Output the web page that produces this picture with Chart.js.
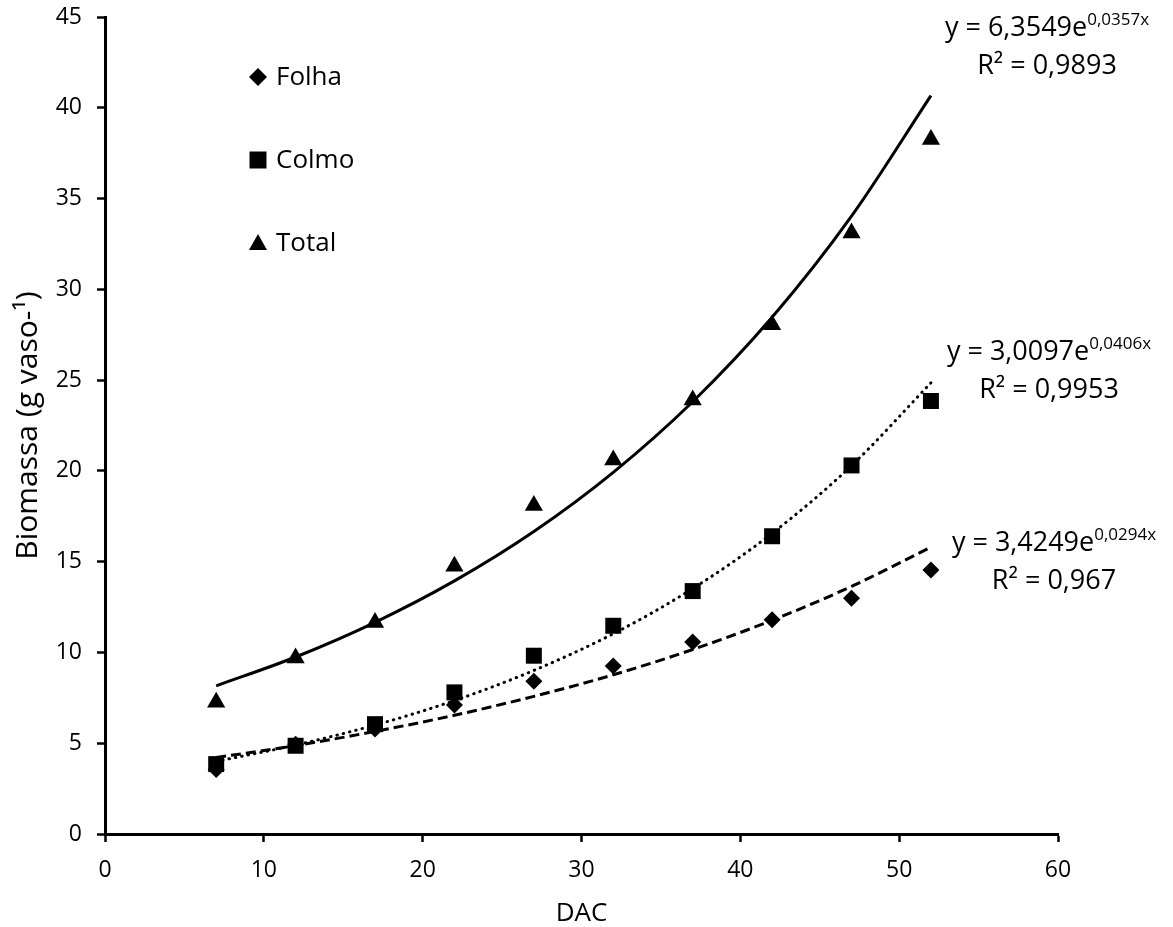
<!DOCTYPE html>
<html>
<head>
<meta charset="utf-8">
<script src="https://cdn.jsdelivr.net/npm/chart.js@4.4.1/dist/chart.umd.min.js"></script>
<style>
html, body { margin: 0; padding: 0; background: #fff; }
#wrap { width: 1173px; height: 927px; }
</style>
</head>
<body>
<div id="wrap"><canvas id="biomassChart" width="1173" height="927"></canvas></div>
<script>
// days after cutting
const dac = [7, 12, 17, 22, 27, 32, 37, 42, 47, 52];
const folha = [3.55, 4.95, 5.78, 7.1, 8.42, 9.25, 10.57, 11.8, 12.98, 14.54];
const colmo = [3.85, 4.86, 6.05, 7.8, 9.82, 11.47, 13.38, 16.4, 20.3, 23.85];
const total = [7.25, 9.7, 11.65, 14.75, 18.1, 20.6, 23.9, 28.05, 33.1, 38.25];

// values along the fitted exponential trend lines, read at each DAC
const folhaTrend = [4.21, 4.87, 5.65, 6.54, 7.58, 8.77, 10.16, 11.77, 13.64, 15.8];
const colmoTrend = [4.0, 4.9, 6.0, 7.35, 9.01, 11.03, 13.52, 16.56, 20.29, 24.85];
const totalTrend = [8.16, 9.75, 11.66, 13.94, 16.66, 19.92, 23.81, 28.46, 34.03, 40.67];

const seriesNames = ['Folha', 'Colmo', 'Total'];
const eqMain = ['y = 3,4249e', 'y = 3,0097e', 'y = 6,3549e'];
const eqExp = ['0,0294x', '0,0406x', '0,0357x'];
const eqR2 = ['R² = 0,967', 'R² = 0,9953', 'R² = 0,9893'];

const xTicks = [0, 10, 20, 30, 40, 50, 60];
const yTicks = [0, 5, 10, 15, 20, 25, 30, 35, 40, 45];

const FONT = '"Open Sans", "Noto Sans", sans-serif';

function pts(xs, ys) {
    return xs.map((x, i) => ({ x: x, y: ys[i] }));
}

const markerStyle = {
    Folha: { pointStyle: 'rectRot', radius: 8.5 },
    Colmo: { pointStyle: 'rect', radius: 11.3 },
    Total: { pointStyle: 'triangle', radius: 10.5 }
};

// legend drawn inside the plot, top-left, like the original
const innerLegend = {
    id: 'innerLegend',
    afterDraw(chart) {
        const ctx = chart.ctx;
        const rows = [77, 160, 243];
        ctx.save();
        ctx.fillStyle = '#000';
        ctx.font = '26px ' + FONT;
        ctx.textBaseline = 'middle';
        seriesNames.forEach((name, i) => {
            const cx = 258, cy = rows[i];
            ctx.beginPath();
            if (name === 'Folha') {
                ctx.moveTo(cx, cy - 9); ctx.lineTo(cx + 9, cy);
                ctx.lineTo(cx, cy + 9); ctx.lineTo(cx - 9, cy);
            } else if (name === 'Colmo') {
                ctx.rect(cx - 8.5, cy - 8.5, 17, 17);
            } else {
                ctx.moveTo(cx, cy - 9); ctx.lineTo(cx + 9, cy + 7); ctx.lineTo(cx - 9, cy + 7);
            }
            ctx.closePath();
            ctx.fill();
            ctx.textAlign = 'left';
            ctx.fillText(name, 276, cy + 1);
        });
        ctx.restore();
    }
};

// trend line equations next to the end of each curve
const trendLabels = {
    id: 'trendLabels',
    afterDraw(chart) {
        const ctx = chart.ctx;
        const centers = [[1054, 543], [1049, 352], [1047, 28]];
        ctx.save();
        ctx.fillStyle = '#000';
        ctx.textBaseline = 'middle';
        ctx.textAlign = 'left';
        centers.forEach(([cx, cy], i) => {
            ctx.font = '27px ' + FONT;
            const w1 = ctx.measureText(eqMain[i]).width;
            ctx.font = '17px ' + FONT;
            const w2 = ctx.measureText(eqExp[i]).width;
            const x0 = cx - (w1 + w2) / 2;
            ctx.font = '27px ' + FONT;
            ctx.fillText(eqMain[i], x0, cy);
            ctx.font = '17px ' + FONT;
            ctx.fillText(eqExp[i], x0 + w1, cy - 8);
            ctx.font = '27px ' + FONT;
            const w3 = ctx.measureText(eqR2[i]).width;
            ctx.fillText(eqR2[i], cx - w3 / 2, cy + 38);
        });
        ctx.restore();
    }
};

const ctx = document.getElementById('biomassChart').getContext('2d');
new Chart(ctx, {
    type: 'scatter',
    data: {
        datasets: [
            { label: 'Folha tendência', data: pts(dac, folhaTrend), showLine: true, pointRadius: 0,
              borderColor: '#000', borderWidth: 3, borderDash: [10, 5], cubicInterpolationMode: 'monotone' },
            { label: 'Colmo tendência', data: pts(dac, colmoTrend), showLine: true, pointRadius: 0,
              borderColor: '#000', borderWidth: 3, borderDash: [0.5, 6], borderCapStyle: 'round', cubicInterpolationMode: 'monotone' },
            { label: 'Total tendência', data: pts(dac, totalTrend), showLine: true, pointRadius: 0,
              borderColor: '#000', borderWidth: 3, cubicInterpolationMode: 'monotone' },
            { label: 'Folha', data: pts(dac, folha), pointStyle: markerStyle.Folha.pointStyle, pointRadius: markerStyle.Folha.radius,
              backgroundColor: '#000', borderColor: '#000', borderWidth: 0 },
            { label: 'Colmo', data: pts(dac, colmo), pointStyle: markerStyle.Colmo.pointStyle, pointRadius: markerStyle.Colmo.radius,
              backgroundColor: '#000', borderColor: '#000', borderWidth: 0 },
            { label: 'Total', data: pts(dac, total), pointStyle: markerStyle.Total.pointStyle, pointRadius: markerStyle.Total.radius,
              backgroundColor: '#000', borderColor: '#000', borderWidth: 0 }
        ]
    },
    options: {
        responsive: false,
        animation: false,
        devicePixelRatio: 1,
        layout: { padding: { left: 0, top: 17, right: 115, bottom: 0 } },
        plugins: { legend: { display: false }, tooltip: { enabled: false } },
        scales: {
            x: {
                type: 'linear', min: 0, max: 60,
                afterFit: s => { s.height = 93; s.paddingLeft = 0; s.paddingRight = 0; },
                afterBuildTicks: s => { s.ticks = xTicks.map(v => ({ value: v })); },
                border: { color: '#000', width: 3 },
                grid: { drawOnChartArea: false, drawTicks: true, tickLength: 8, tickColor: '#000', tickWidth: 2.5 },
                ticks: { color: '#000', font: { family: FONT, size: 23 }, padding: 15 },
                title: { display: true, text: 'DAC', color: '#000', font: { family: FONT, size: 26, lineHeight: 1 }, padding: { top: 0, bottom: 0 } }
            },
            y: {
                type: 'linear', min: 0, max: 45,
                afterFit: s => { s.width = 105; s.paddingTop = 0; s.paddingBottom = 0; },
                afterBuildTicks: s => { s.ticks = yTicks.map(v => ({ value: v })); },
                border: { color: '#000', width: 3 },
                grid: { drawOnChartArea: false, drawTicks: true, tickLength: 8, tickColor: '#000', tickWidth: 2.5 },
                ticks: { color: '#000', font: { family: FONT, size: 23 }, padding: 15 },
                title: { display: true, text: 'Biomassa (g vaso-¹)', color: '#000', font: { family: FONT, size: 30 }, padding: { top: 10, bottom: 0 } }
            }
        }
    },
    plugins: [innerLegend, trendLabels]
});
</script>
</body>
</html>
